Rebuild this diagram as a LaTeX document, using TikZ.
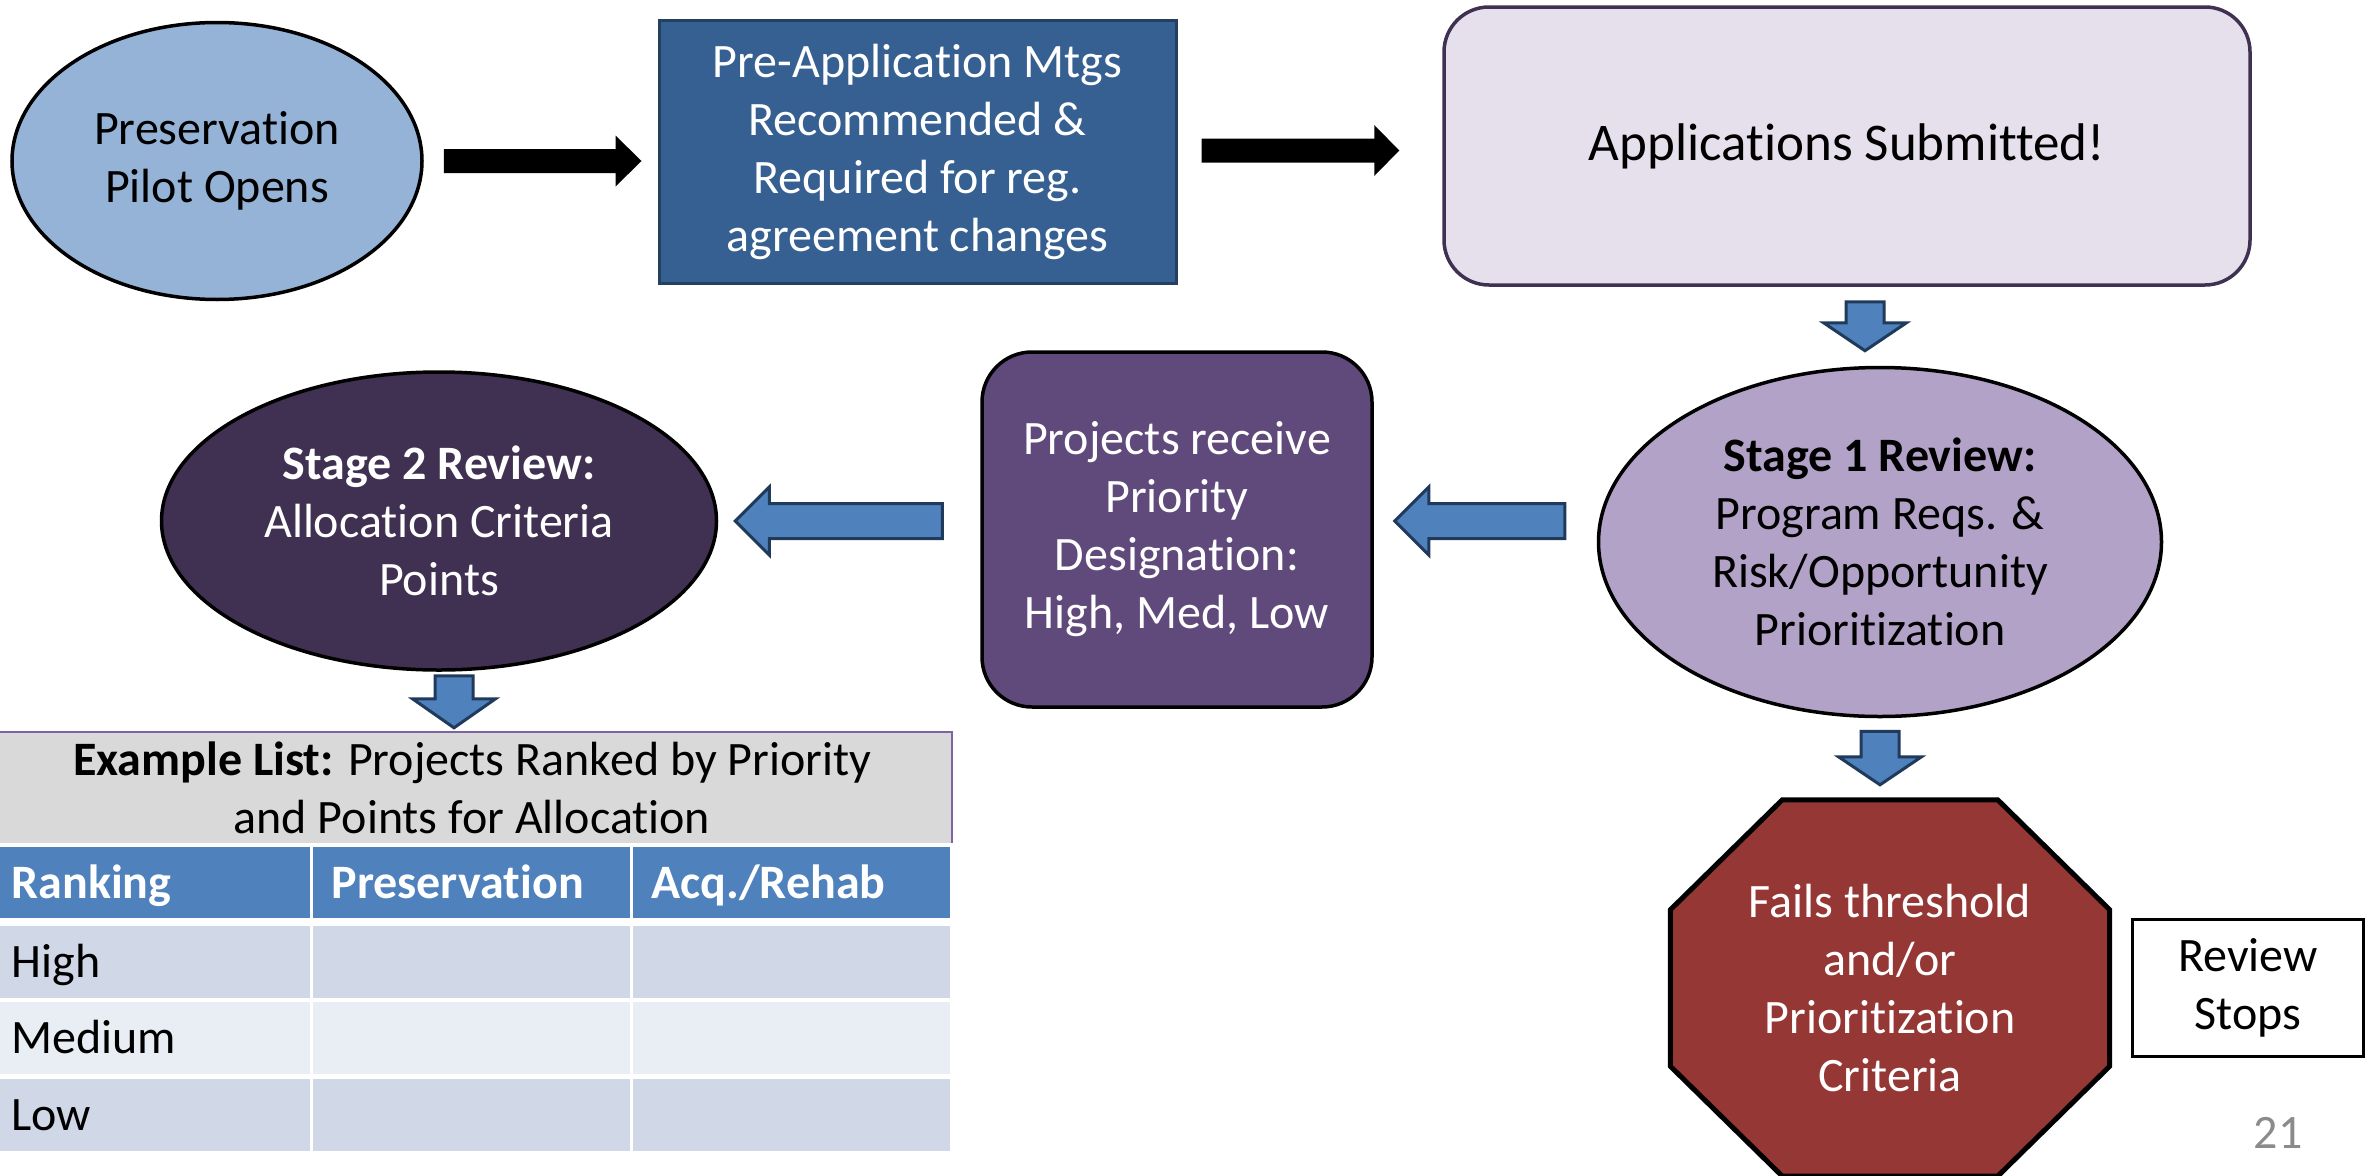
\documentclass[tikz,border=0pt]{standalone}
\usepackage{fontspec}
\setmainfont{Carlito}[Ligatures=CommonOff]
\usetikzlibrary{positioning}
\usetikzlibrary{calc}
\usetikzlibrary{shapes.geometric}
\usetikzlibrary{backgrounds}

\definecolor{pilotblue}{HTML}{95B3D7}
\definecolor{premblue}{HTML}{376092}
\definecolor{premline}{HTML}{24405F}
\definecolor{applilac}{HTML}{E5E0EC}
\definecolor{appline}{HTML}{3F3151}
\definecolor{stagelilac}{HTML}{B3A2C7}
\definecolor{projpurple}{HTML}{604A7B}
\definecolor{stagedark}{HTML}{403152}
\definecolor{arrowblue}{HTML}{4F81BD}
\definecolor{arrowline}{HTML}{203A5C}
\definecolor{stopred}{HTML}{953735}
\definecolor{titlegray}{HTML}{D9D9D9}
\definecolor{titleline}{HTML}{8064A2}
\definecolor{rowdark}{HTML}{D0D8E8}
\definecolor{rowlight}{HTML}{E9EDF4}
\definecolor{pagegray}{HTML}{8B8B8B}

\begin{document}
\begin{tikzpicture}[x=1pt,y=-1pt,
  every node/.style={font=\fontsize{48}{58}\selectfont, align=center},
  oval/.style={ellipse, draw=black, line width=3.5pt, inner sep=0pt},
  sqbox/.style={rectangle, line width=3pt, inner sep=0pt},
  rbox/.style={rectangle, line width=3.5pt, inner sep=0pt},
  stopsign/.style={rectangle, text=white, minimum width=439pt, minimum height=376pt, inner sep=0pt},
  stopline/.style={fill=stopred, draw=black, line width=5pt, line join=miter},
  plainbox/.style={rectangle, draw=black, line width=3.5pt, fill=white,
    minimum width=231pt, minimum height=137pt, inner sep=0pt},
  headcell/.style={rectangle, fill=arrowblue, text=white, font=\fontsize{48}{58}\selectfont\bfseries,
    minimum width=317pt, minimum height=71pt, text width=280pt, text height=40pt, text depth=9pt,
    inner xsep=18.5pt, inner ysep=0pt, align=left},
  cell/.style={rectangle, minimum width=317pt, minimum height=72pt, text height=40pt, text depth=9pt,
    text width=280pt, inner xsep=18.5pt, inner ysep=0pt, align=left},
  bluearrow/.style={fill=arrowblue, draw=arrowline, line width=3pt, line join=miter},
  blackarrow/.style={fill=black, draw=none},
  block/.style n args={3}{to path={
    let \p1=(\tikztostart), \p2=(\tikztotarget),
        \n1={abs(\x2-\x1)+abs(\y2-\y1)},
        \n2={(\x2-\x1)/\n1}, \n3={(\y2-\y1)/\n1},
        \p3=({\x1+\n2*(\n1-#3)},{\y1+\n3*(\n1-#3)})
    in ({\x1-\n3*#1},{\y1+\n2*#1}) -- ({\x3-\n3*#1},{\y3+\n2*#1})
       -- ({\x3-\n3*#2},{\y3+\n2*#2}) -- (\p2)
       -- ({\x3+\n3*#2},{\y3-\n2*#2}) -- ({\x3+\n3*#1},{\y3-\n2*#1})
       -- ({\x1+\n3*#1},{\y1-\n2*#1}) -- cycle}}]
\useasboundingbox (0,0) rectangle (2366,1175);

% top row
\node[oval, fill=pilotblue, minimum width=410pt, minimum height=277pt] (pilot) at (217,161) {Preservation\\Pilot Opens};
\node[sqbox, fill=premblue, draw=premline, text=white, minimum width=517pt, minimum height=263pt] (prem) at (917.5,151.5)
  {Pre-Application Mtgs\\Recommended \&\\Required for reg.\\agreement changes};
\node[rbox, fill=applilac, draw=appline, rounded corners=45pt, minimum width=806pt, minimum height=278pt,
  font=\fontsize{53}{64}\selectfont] (apps) at (1847,146) {Applications Submitted!};

% middle row
\node[oval, fill=stagelilac, minimum width=563pt, minimum height=349pt] (stage1) at (1880,542)
  {\textbf{Stage 1 Review:}\\Program Reqs. \&\\Risk/Opportunity\\Prioritization};
\node[rbox, fill=projpurple, draw=black, text=white, rounded corners=50pt, minimum width=390pt, minimum height=355pt] (proj) at (1177,529.5)
  {Projects receive\\Priority\\Designation:\\High, Med, Low};
\node[oval, fill=stagedark, text=white, minimum width=555pt, minimum height=298pt] (stage2) at (439,521)
  {\textbf{Stage 2 Review:}\\Allocation Criteria\\Points};

% stop branch
\node[stopsign] (stop) at (1890,988) {Fails threshold\\and/or\\Prioritization\\Criteria};
\begin{scope}[on background layer]
\draw[stopline] ($(stop.north west)+(112,0)$) -- ($(stop.north east)+(-112,0)$) -- ($(stop.north east)+(0,110)$)
  -- ($(stop.south east)+(0,-110)$) -- ($(stop.south east)+(-112,0)$) -- ($(stop.south west)+(112,0)$)
  -- ($(stop.south west)+(0,-110)$) -- ($(stop.north west)+(0,110)$) -- cycle;
\end{scope}
\node[plainbox, right=21pt of stop] (halt) {Review\\Stops};
\node[text=pagegray] (pagenum) at (2278,1133) {21};

% table
\node[rectangle, fill=titlegray, minimum width=960pt, minimum height=111pt, inner sep=0pt] (title) at (472,787.5)
  {\textbf{Example List:} Projects Ranked by Priority\\and Points for Allocation};
\draw[titleline, line width=2pt] (title.north west) -- (title.north east) -- (title.south east);
\foreach \txt [count=\c] in {Ranking,Preservation,Acq./Rehab}
  \node[headcell] (head-\c) at ({151.5+320*(\c-1)},882.5) {\txt};
\foreach \lab/\shade [count=\r] in {High/rowdark,Medium/rowlight,Low/rowdark} {
  \node[cell, fill=\shade] (row-\r-1) at (151.5,{961.5+76.5*(\r-1)}) {\lab};
  \foreach \c in {2,3}
    \node[cell, fill=\shade] (row-\r-\c) at ({151.5+320*(\c-1)},{961.5+76.5*(\r-1)}) {};
}

% connectors
\draw[blackarrow, block={12}{25.5}{26}] ($(pilot.east)+(20,0)$) to ($(prem.west |- pilot.east)+(-16,0)$);
\draw[blackarrow, block={12}{25.5}{25}] ($(prem.east)+(24,-1)$) to ($(apps.west |- prem.east)+(-43,-1)$);
\draw[bluearrow, block={19}{41.5}{28}] ($(apps.south)+(18,15)$) to ($(stage1.north -| apps.south)+(18,-15)$);
\draw[bluearrow, block={19}{41.5}{28}] ($(stage1.south)+(0,13)$) to ($(stop.north -| stage1.south)+(0,-15)$);
\draw[bluearrow, block={17.5}{34}{34}] ($(stage1.west)+(-32,-21)$) to ($(proj.east |- stage1.west)+(21,-21)$);
\draw[bluearrow, block={17.5}{34}{34}] ($(proj.west)+(-38,-8.5)$) to ($(stage2.east |- proj.west)+(17,-8.5)$);
\draw[bluearrow, block={19}{41.5}{29}] ($(stage2.south)+(15,4)$) to ($(title.north -| stage2.south)+(15,-4)$);

\end{tikzpicture}
\end{document}
